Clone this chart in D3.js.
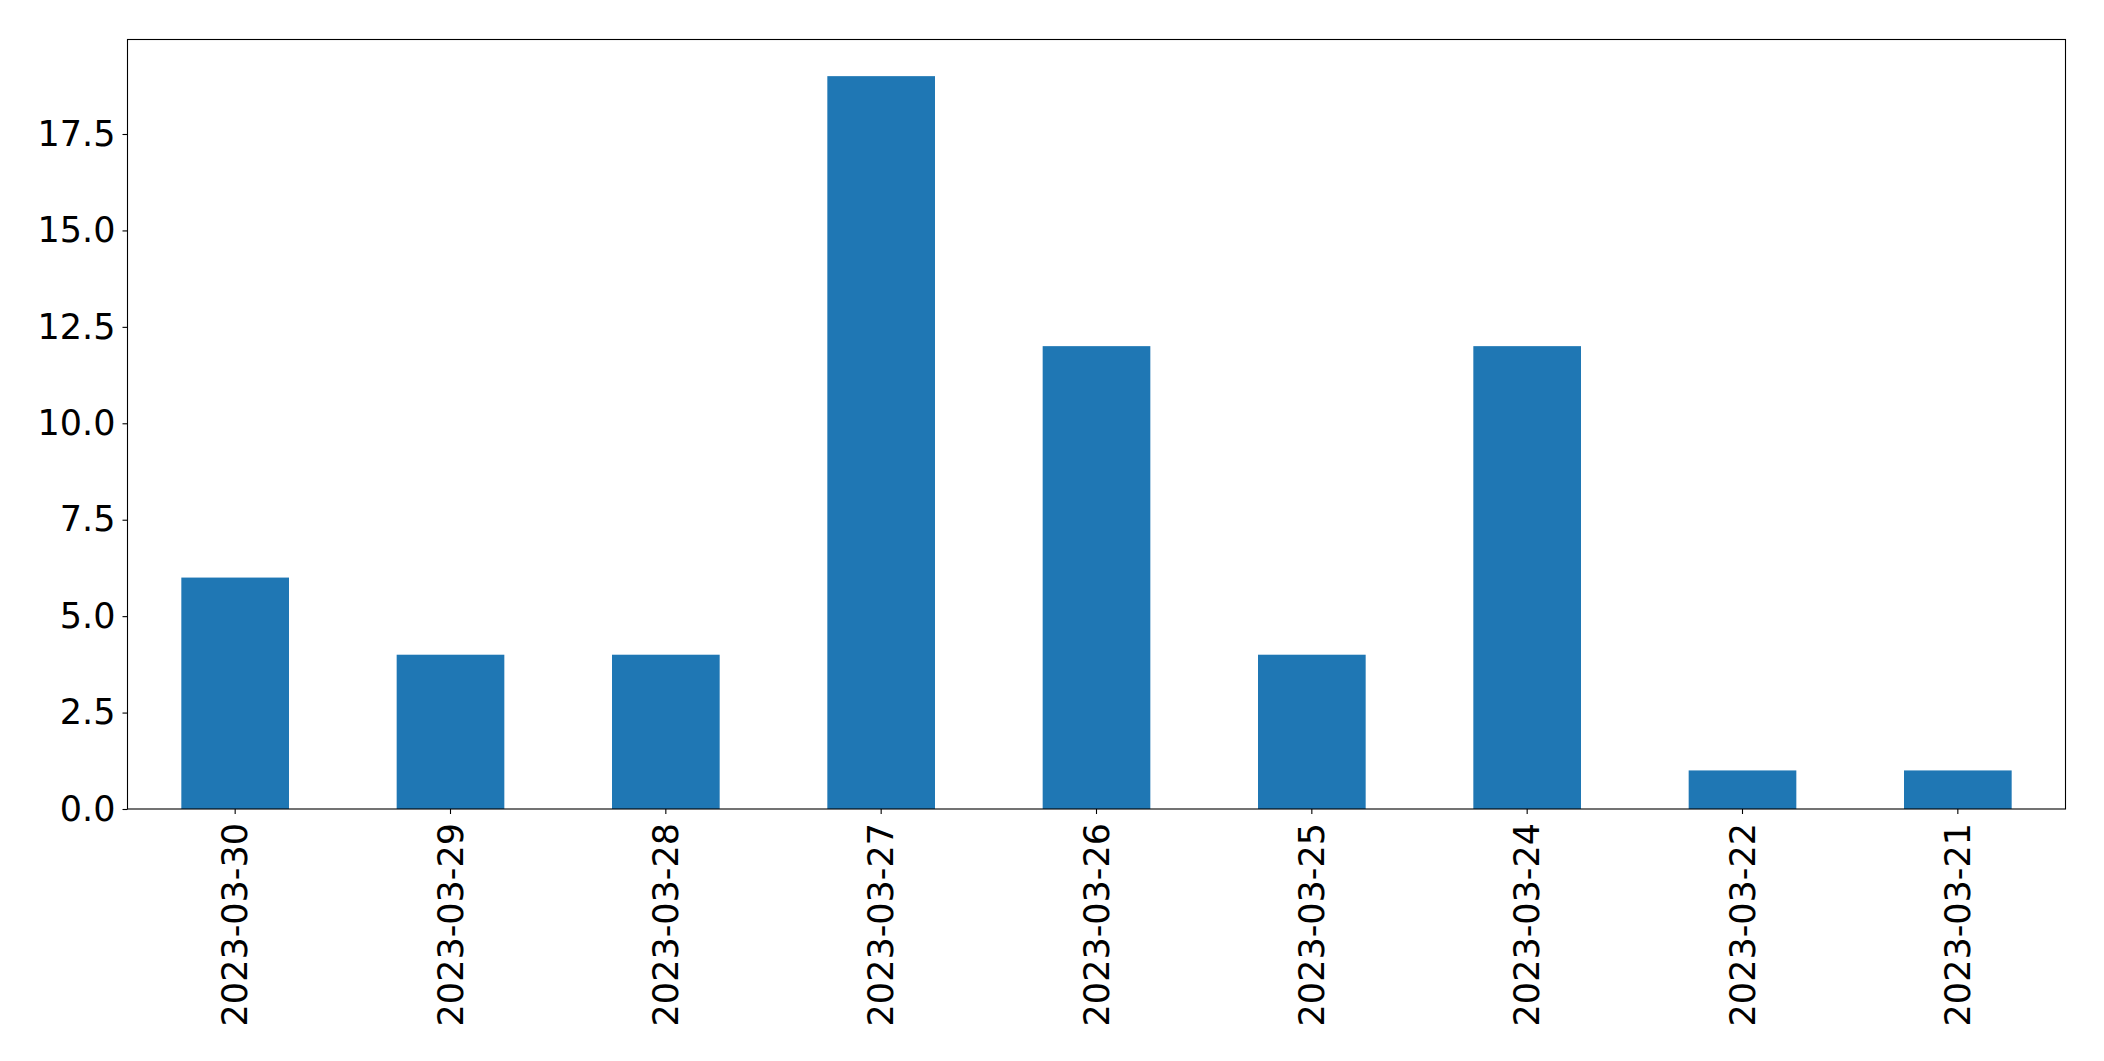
<!DOCTYPE html>
<html><head><meta charset="utf-8">
<script src="https://cdn.jsdelivr.net/npm/d3@7"></script>
<style>body{margin:0;background:#fff}svg{display:block}</style>
</head><body>
<script>
const categories = ["2023-03-30","2023-03-29","2023-03-28","2023-03-27","2023-03-26","2023-03-25","2023-03-24","2023-03-22","2023-03-21"];
const values = [6,4,4,19,12,4,12,1,1];
const yTicks = [0,2.5,5,7.5,10,12.5,15,17.5];

const W=2104,H=1061;
const m={left:127.5,top:39.5,right:2104-2065.5,bottom:1061-809};
const svg=d3.select("body").append("svg").attr("width",W).attr("height",H);
const iw=W-m.left-m.right, ih=H-m.top-m.bottom;
const g=svg.append("g").attr("transform",`translate(${m.left},${m.top})`);
const x=d3.scaleBand().domain(categories).range([0,iw]).paddingInner(0.5).paddingOuter(0.25);
const y=d3.scaleLinear().domain([0,d3.max(values)*1.05]).range([ih,0]);

g.selectAll("rect.bar").data(values).join("rect").attr("class","bar")
 .attr("x",(d,i)=>x(categories[i])).attr("width",x.bandwidth())
 .attr("y",d=>y(d)).attr("height",d=>ih-y(d)).attr("fill","#1f77b4");

const font="'DejaVu Sans', sans-serif";
const ya=g.append("g").call(d3.axisLeft(y).tickValues(yTicks).tickFormat(d3.format(".1f")).tickSize(5).tickPadding(7));
const xa=g.append("g").attr("transform",`translate(0,${ih})`).call(d3.axisBottom(x).tickSize(5).tickPadding(0));
[ya,xa].forEach(a=>{a.select(".domain").remove();a.selectAll("line").attr("stroke","#000").attr("stroke-width",1.1);
 a.selectAll("text").attr("font-family",font).attr("font-size","35px").attr("fill","#000");});
xa.selectAll("text").attr("transform","rotate(-90)").attr("text-anchor","end").attr("dy","0.35em").attr("x",-14).attr("y",0);
g.append("rect").attr("x",0).attr("y",0).attr("width",iw).attr("height",ih).attr("fill","none").attr("stroke","#000").attr("stroke-width",1.1);
</script>
</body></html>
